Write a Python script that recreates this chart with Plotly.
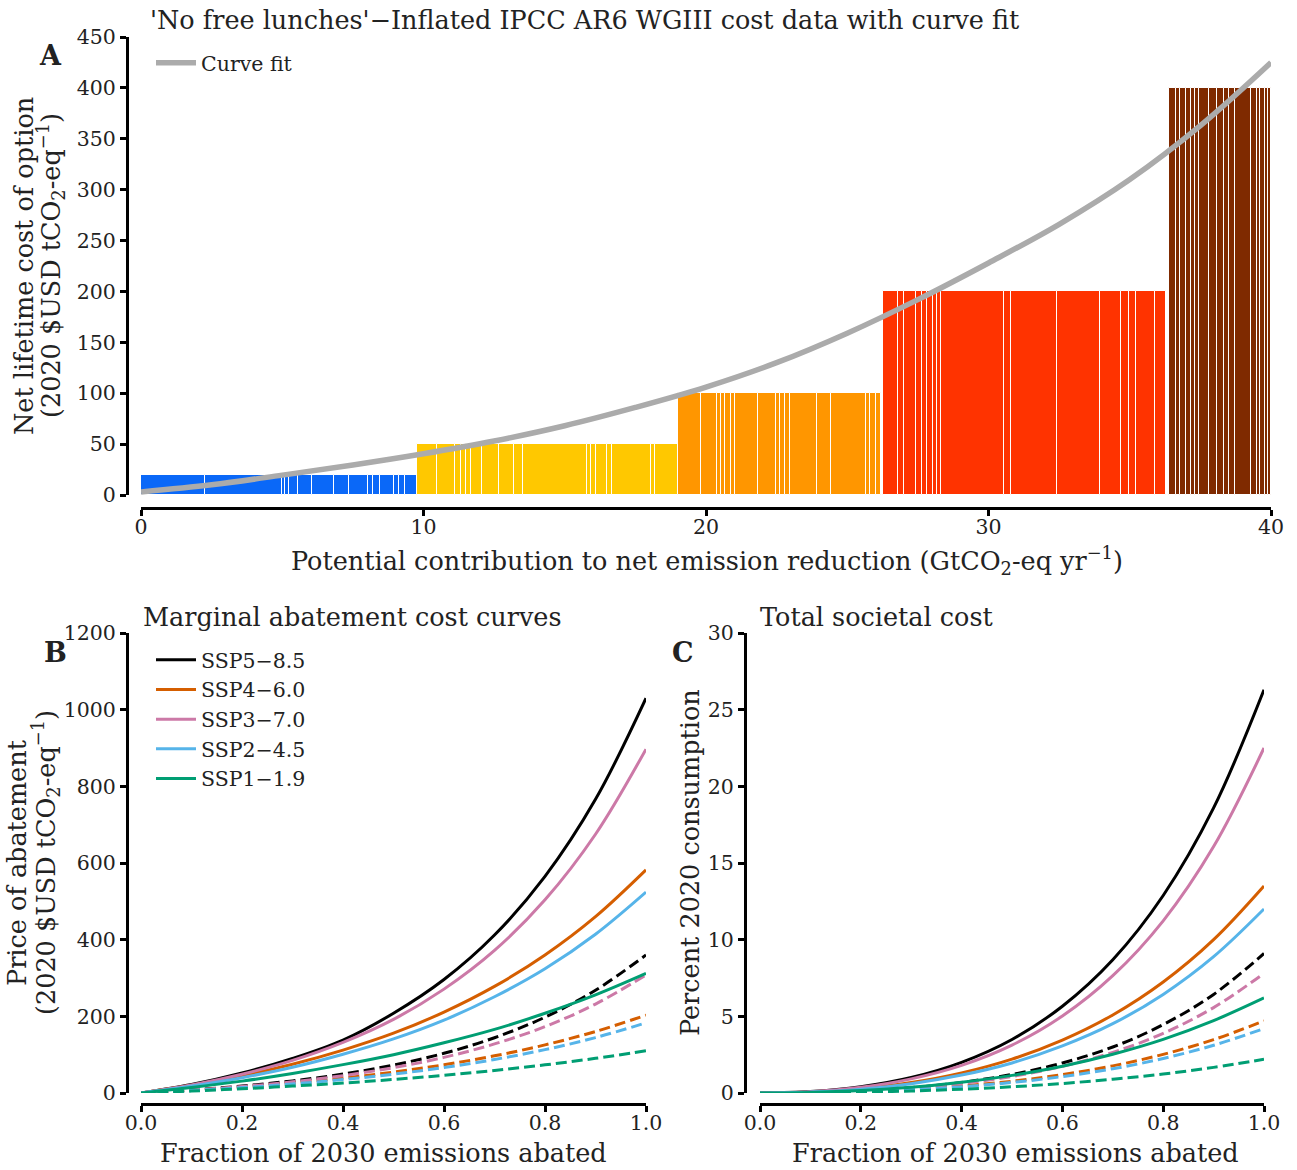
import plotly.graph_objects as go

W, H = 1297, 1170
FONT = "DejaVu Serif"

# ---------------- Panel A data ----------------
tier_costs = [20, 50, 100, 200, 400]
tier_colors = ["#0a68f8", "#ffc800", "#ff9600", "#ff3300", "#7f2a00"]
blue_edges = [0, 2.27, 4.98, 5.11, 5.24, 5.55, 6.05, 6.82, 7.38, 8.02, 8.21, 8.46, 8.97, 9.15, 9.35, 9.76]
yellow_edges = [9.76, 10.48, 11.12, 11.31, 11.49, 11.68, 12.06, 12.69, 13.2, 13.52, 15.79, 15.92,
                16.11, 16.49, 16.68, 18.07, 18.2, 19.0]
orange_edges = [19.0, 19.82, 20.39, 20.54, 20.68, 20.9, 21.04, 21.84, 22.49, 22.63, 22.78, 22.99,
                23.93, 24.44, 25.67, 25.81, 26.03, 26.2]
red_edges = [26.25, 26.8, 27.0, 27.44, 27.63, 27.82, 28.02, 28.19, 28.31, 30.55, 30.78, 32.44,
             33.93, 34.7, 34.97, 35.23, 35.88, 36.3]
brown_edges = [36.4, 36.62, 36.79, 36.98, 37.17, 37.3, 37.46, 37.8, 38.1, 38.34, 38.53, 38.74,
               39.3, 39.5, 39.62, 39.77, 39.9, 40.0]
tier_edges = [blue_edges, yellow_edges, orange_edges, red_edges, brown_edges]

fit_x = [0, 2.5, 5, 7.5, 10, 12.5, 15, 17.5, 20, 22.5, 25, 27.5, 30, 32.5, 35, 37.5, 40]
fit_y = [3, 10, 19.5, 29.5, 40.5, 53, 68, 86, 106, 130, 159, 192, 228, 266, 310, 363, 425]

# ---------------- Panels B & C data ----------------
frac = [0, 0.1, 0.2, 0.3, 0.4, 0.5, 0.6, 0.7, 0.8, 0.9, 1.0]
ssp_names = ["SSP5\u22128.5", "SSP4\u22126.0", "SSP3\u22127.0", "SSP2\u22124.5", "SSP1\u22121.9"]
ssp_colors = ["#000000", "#d55e00", "#cc79a7", "#56b4e9", "#009e73"]

mac_solid = {
    "SSP5\u22128.5": [0, 22, 52, 90, 138, 208, 296, 412, 565, 766, 1030],
    "SSP4\u22126.0": [0, 20, 45, 75, 112, 156, 211, 278, 360, 460, 582],
    "SSP3\u22127.0": [0, 21, 49, 85, 132, 192, 271, 372, 504, 675, 897],
    "SSP2\u22124.5": [0, 18, 40, 67, 101, 141, 190, 251, 324, 414, 524],
    "SSP1\u22121.9": [0, 14.5, 31, 51, 74, 100, 131, 166, 208, 256, 312],
}
mac_dashed = {
    "SSP5\u22128.5": [0, 7.8, 18.1, 31.6, 49.4, 72.8, 103.6, 144.2, 197.8, 268, 360],
    "SSP4\u22126.0": [0, 7.0, 15.6, 26.1, 38.9, 54.6, 73.6, 97, 125.5, 160.4, 203],
    "SSP3\u22127.0": [0, 7.4, 16.9, 29.2, 45.3, 66, 93, 128, 173, 232, 308],
    "SSP2\u22124.5": [0, 6.4, 14.1, 23.5, 35.1, 49.2, 66.4, 87.4, 113.1, 144.5, 183],
    "SSP1\u22121.9": [0, 5.1, 11.0, 18.0, 26.0, 35.3, 46.2, 58.7, 73.4, 90.4, 110],
}
cost_solid = {
    "SSP5\u22128.5": [0, 0.09, 0.41, 1.01, 2.0, 3.49, 5.66, 8.69, 12.88, 18.59, 26.3],
    "SSP4\u22126.0": [0, 0.066, 0.28, 0.68, 1.31, 2.21, 3.45, 5.09, 7.24, 10.0, 13.5],
    "SSP3\u22127.0": [0, 0.084, 0.37, 0.92, 1.80, 3.12, 5.02, 7.65, 11.23, 16.07, 22.5],
    "SSP2\u22124.5": [0, 0.059, 0.25, 0.61, 1.17, 1.96, 3.07, 4.52, 6.43, 8.89, 12.0],
    "SSP1\u22121.9": [0, 0.037, 0.16, 0.37, 0.70, 1.15, 1.75, 2.53, 3.50, 4.72, 6.2],
}
cost_dashed = {
    "SSP5\u22128.5": [0, 0.032, 0.14, 0.35, 0.69, 1.21, 1.96, 3.0, 4.46, 6.43, 9.1],
    "SSP4\u22126.0": [0, 0.023, 0.098, 0.238, 0.456, 0.769, 1.2, 1.77, 2.52, 3.48, 4.7],
    "SSP3\u22127.0": [0, 0.029, 0.128, 0.318, 0.624, 1.08, 1.74, 2.65, 3.89, 5.57, 7.8],
    "SSP2\u22124.5": [0, 0.020, 0.088, 0.212, 0.407, 0.686, 1.07, 1.58, 2.25, 3.11, 4.2],
    "SSP1\u22121.9": [0, 0.013, 0.055, 0.131, 0.247, 0.407, 0.62, 0.90, 1.24, 1.67, 2.2],
}

fig = go.Figure()

# Panel A bars
for cost, color, edges in zip(tier_costs, tier_colors, tier_edges):
    widths = [b - a for a, b in zip(edges[:-1], edges[1:])]
    centers = [a + w / 2 for a, w in zip(edges[:-1], widths)]
    fig.add_trace(go.Bar(x=centers, y=[cost] * len(widths), width=widths,
                         marker=dict(color=color, line=dict(color="white", width=1)),
                         showlegend=False, xaxis="x", yaxis="y", hoverinfo="skip"))

fig.add_trace(go.Scatter(x=fit_x, y=fit_y, mode="lines", name="Curve fit",
                         line=dict(color="#ababab", width=5.5, shape="spline"),
                         xaxis="x", yaxis="y", legend="legend"))

# Panels B & C
DASH = "11px,5px"
for name, color in zip(ssp_names, ssp_colors):
    fig.add_trace(go.Scatter(x=frac, y=mac_dashed[name], mode="lines", showlegend=False,
                             line=dict(color=color, width=3, dash=DASH, shape="spline"),
                             xaxis="x2", yaxis="y2"))
    fig.add_trace(go.Scatter(x=frac, y=cost_dashed[name], mode="lines", showlegend=False,
                             line=dict(color=color, width=3, dash=DASH, shape="spline"),
                             xaxis="x3", yaxis="y3"))
for name, color in zip(ssp_names, ssp_colors):
    fig.add_trace(go.Scatter(x=frac, y=mac_solid[name], mode="lines", name=name,
                             line=dict(color=color, width=3, shape="spline"),
                             xaxis="x2", yaxis="y2", legend="legend2", legendgroup=name))
    fig.add_trace(go.Scatter(x=frac, y=cost_solid[name], mode="lines", showlegend=False,
                             line=dict(color=color, width=3, shape="spline"),
                             xaxis="x3", yaxis="y3"))


def px(x):
    return x / W


def py(y):
    return 1 - y / H


TXT = "#222222"
axis_common = dict(showline=True, linecolor="black", linewidth=3, ticks="outside",
                   ticklen=6, tickwidth=2.5, tickcolor="black", showgrid=False,
                   zeroline=False, tickfont=dict(family=FONT, size=20.5, color=TXT),
                   anchor="free", fixedrange=True, automargin=False)
xaxis_extra = dict(ticklabelstandoff=-7)

fig.update_layout(
    width=W, height=H, margin=dict(l=0, r=0, t=0, b=0, autoexpand=False),
    paper_bgcolor="white", plot_bgcolor="white",
    barmode="overlay", bargap=0,
    font=dict(family=FONT, size=20.5, color=TXT),
    xaxis=dict(domain=[px(141), px(1271)], range=[0, 40], tickvals=[0, 10, 20, 30, 40],
               position=py(508), **axis_common, **xaxis_extra),
    yaxis=dict(domain=[py(495), py(37)], range=[0, 450],
               tickvals=[0, 50, 100, 150, 200, 250, 300, 350, 400, 450],
               position=px(127), **axis_common),
    xaxis2=dict(domain=[px(141), px(646)], range=[0, 1], tickvals=[0, 0.2, 0.4, 0.6, 0.8, 1.0],
                tickformat=".1f", position=py(1104), **axis_common, **xaxis_extra),
    yaxis2=dict(domain=[py(1093), py(633)], range=[0, 1200],
                tickvals=[0, 200, 400, 600, 800, 1000, 1200], position=px(127), **axis_common),
    xaxis3=dict(domain=[px(760), px(1264)], range=[0, 1], tickvals=[0, 0.2, 0.4, 0.6, 0.8, 1.0],
                tickformat=".1f", position=py(1104), **axis_common, **xaxis_extra),
    yaxis3=dict(domain=[py(1093), py(633)], range=[0, 30],
                tickvals=[0, 5, 10, 15, 20, 25, 30], position=px(745), **axis_common),
    legend=dict(x=px(151), y=py(43), xanchor="left", yanchor="top", bgcolor="rgba(0,0,0,0)",
                font=dict(family=FONT, size=20.5, color=TXT), itemwidth=40),
    legend2=dict(x=px(151), y=py(640), xanchor="left", yanchor="top", bgcolor="rgba(0,0,0,0)",
                 font=dict(family=FONT, size=20.5, color=TXT), itemwidth=40,
                 tracegroupgap=5.5, traceorder="normal"),
)

ann = []


def add_text(text, x, y, size=25.5, xanchor="center", yanchor="middle", angle=0, bold=False):
    if bold:
        text = "<b>" + text + "</b>"
    ann.append(dict(text=text, x=px(x), y=py(y), xref="paper", yref="paper", showarrow=False,
                    xanchor=xanchor, yanchor=yanchor, textangle=angle,
                    font=dict(family=FONT, size=size, color=TXT)))


add_text("'No free lunches'\u2212Inflated IPCC AR6 WGIII cost data with curve fit", 148, 20,
         xanchor="left")
add_text("A", 50, 55, size=27, bold=True)
add_text("Potential contribution to net emission reduction (GtCO<sub>2</sub>-eq yr<sup>\u22121</sup>)",
         707, 560)
add_text("Net lifetime cost of option", 24, 266, angle=-90)
add_text("(2020 $USD tCO<sub>2</sub>-eq<sup>\u22121</sup>)", 51, 266, angle=-90)

add_text("Marginal abatement cost curves", 141, 617, xanchor="left")
add_text("B", 55, 652, size=27, bold=True)
add_text("Fraction of 2030 emissions abated", 383, 1153)
add_text("Price of abatement", 17, 863, angle=-90)
add_text("(2020 $USD tCO<sub>2</sub>-eq<sup>\u22121</sup>)", 45, 863, angle=-90)

add_text("Total societal cost", 758, 617, xanchor="left")
add_text("C", 683, 652, size=27, bold=True)
add_text("Fraction of 2030 emissions abated", 1015, 1153)
add_text("Percent 2020 consumption", 690, 863, angle=-90)

fig.update_layout(annotations=ann)
fig.write_html("out.html")
